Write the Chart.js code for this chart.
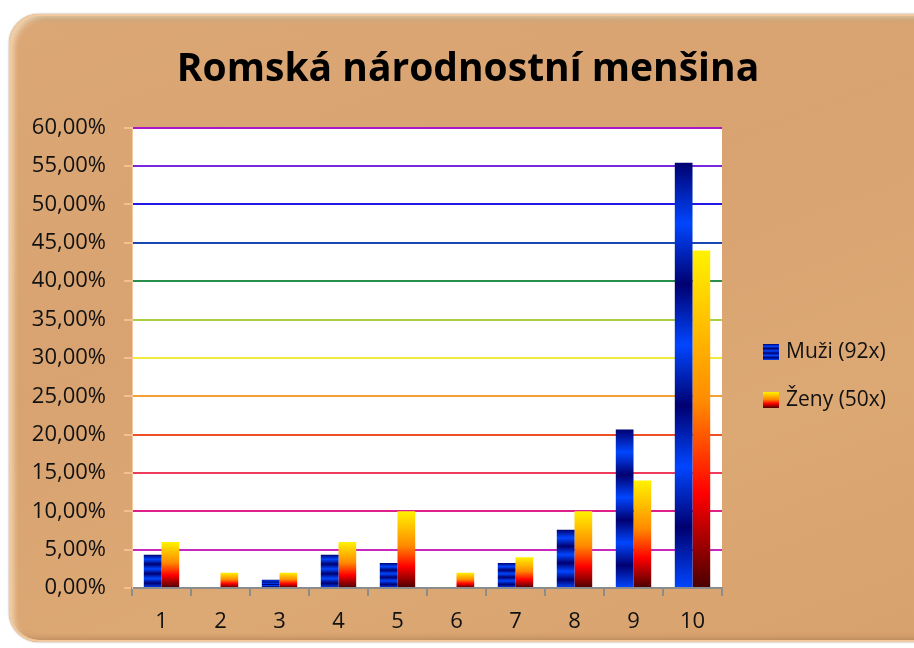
<!DOCTYPE html>
<html>
<head>
<meta charset="utf-8">
<script src="https://cdn.jsdelivr.net/npm/chart.js@4.4.1/dist/chart.umd.min.js"></script>
<style>
  html, body { margin: 0; padding: 0; background: #fff; overflow: hidden; }
  #wrap { position: relative; width: 914px; height: 648px; overflow: hidden; }
  #frame {
    position: absolute; left: 9px; top: 14px; width: 940px; height: 628px;
    border-radius: 30px;
    background: linear-gradient(160deg, #dba775 0%, #d8a370 40%, #dca874 70%, #d7a16d 100%);
    box-shadow: inset 0 0 0 2px #f3c9a0, inset 4px 4px 6px rgba(255, 236, 205, 0.85),
      inset 0 5px 5px rgba(110, 80, 40, 0.55), inset -3px -3px 6px rgba(120, 80, 40, 0.4),
      0 0 2px rgba(90, 60, 30, 0.6);
  }
  #chart { position: absolute; left: 0; top: 0; }
</style>
</head>
<body>
<div id="wrap">
  <div id="frame"></div>
  <canvas id="chart" width="914" height="648"></canvas>
</div>
<script>
// data (percent of each group)
const categories = ["1", "2", "3", "4", "5", "6", "7", "8", "9", "10"];
const muzi = [4.35, 0, 1.09, 4.35, 3.26, 0, 3.26, 7.61, 20.65, 55.43];
const zeny = [6, 2, 2, 6, 10, 2, 4, 10, 14, 44];
const seriesNames = ["Muži (92x)", "Ženy (50x)"];
const gridColors = ["#8c8c8c", "#c828c0", "#e0208a", "#f03c5c", "#f05028", "#f5a030",
  "#f2ea3c", "#a8d040", "#28904a", "#1848b4", "#2418e6", "#7a28e0", "#a818c8"];

const blueStops = ["#000070", "#0046ff"];
const fireStops = [[0, "#fff200"], [0.45, "#ff8a00"], [0.72, "#ff0000"], [1, "#4a0000"]];

function blueGradient(ctx, top, base) {
  const g = ctx.createLinearGradient(0, top, 0, base);
  for (let i = 0; i <= 7; i++) g.addColorStop(i / 7, blueStops[i % 2]);
  return g;
}
function fireGradient(ctx, top, base) {
  const g = ctx.createLinearGradient(0, top, 0, base);
  fireStops.forEach(s => g.addColorStop(s[0], s[1]));
  return g;
}
const gradients = [blueGradient, fireGradient];

// gradient per bar, using the bar's own top and base
function barFill(makeGrad, fallback) {
  return function(c) {
    const chart = c.chart;
    const y = chart.scales.y;
    if (!chart.chartArea || !y || c.raw == null) return fallback;
    const top = y.getPixelForValue(c.raw);
    const base = y.getPixelForValue(0);
    if (base - top < 1) return fallback;
    return makeGrad(chart.ctx, top, base);
  };
}

const plotBackground = {
  id: "plotBackground",
  beforeDraw(chart) {
    const a = chart.chartArea;
    chart.ctx.save();
    chart.ctx.fillStyle = "#ffffff";
    chart.ctx.fillRect(a.left, a.top, a.right - a.left, a.bottom - a.top);
    chart.ctx.restore();
  }
};

const font = "'Open Sans', 'DejaVu Sans', sans-serif";

// legend drawn into the space kept free on the right
const sideLegend = {
  id: "sideLegend",
  afterDraw(chart) {
    const ctx = chart.ctx;
    const x = chart.chartArea.right + 41;
    ctx.save();
    ctx.font = "21px " + font;
    ctx.textBaseline = "middle";
    seriesNames.forEach((name, i) => {
      const cy = 352 + i * 48;
      ctx.fillStyle = gradients[i](ctx, cy - 8, cy + 8);
      ctx.fillRect(x, cy - 8, 16, 16);
      ctx.fillStyle = "#111";
      ctx.fillText(name, x + 23, cy);
    });
    ctx.restore();
  }
};

new Chart(document.getElementById("chart"), {
  type: "bar",
  data: {
    labels: categories,
    datasets: [
      { label: seriesNames[0], data: muzi, backgroundColor: barFill(blueGradient, "#0030c0"),
        categoryPercentage: 0.6, barPercentage: 1.0 },
      { label: seriesNames[1], data: zeny, backgroundColor: barFill(fireGradient, "#ff4000"),
        categoryPercentage: 0.6, barPercentage: 1.0 }
    ]
  },
  options: {
    responsive: false,
    animation: false,
    layout: { padding: { left: 22, right: 0, top: 14, bottom: 0 } },
    plugins: {
      title: {
        display: true,
        text: "Romská národnostní menšina",
        color: "#000",
        font: { family: font, size: 39, weight: "bold" },
        padding: { top: 32, bottom: 35 }
      },
      legend: { display: false },
      tooltip: { enabled: false }
    },
    scales: {
      x: {
        grid: { offset: true, drawOnChartArea: false, tickColor: "#8c8c8c", tickLength: 8, lineWidth: 2 },
        border: { color: "#8c8c8c", width: 2 },
        ticks: { color: "#111", font: { family: font, size: 22, lineHeight: 1 }, padding: 15 }
      },
      y: {
        min: 0, max: 60,
        afterFit: s => { s.width = 110; },
        grid: {
          color: c => gridColors[c.index] || "#ccc",
          lineWidth: 2,
          tickColor: "#f5c090",
          tickLength: 8
        },
        border: { color: "#f5c8a0", width: 1 },
        ticks: {
          stepSize: 5,
          color: "#111",
          font: { family: font, size: 22 },
          padding: 18,
          callback: v => v.toFixed(2).replace(".", ",") + "%"
        }
      },
      // empty axis on the right only keeps room for the legend
      side: {
        type: "linear",
        position: "right",
        grid: { display: false },
        border: { display: false },
        ticks: { display: false },
        afterFit: s => { s.width = 192; }
      }
    }
  },
  plugins: [plotBackground, sideLegend]
});
</script>
</body>
</html>
